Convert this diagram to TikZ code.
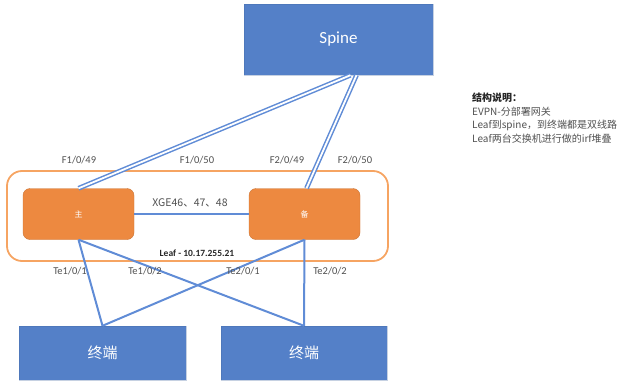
\documentclass[tikz,border=0pt]{standalone}
\usepackage{fontspec}
\setmainfont{Carlito}
\newfontfamily\cjk{Noto Sans CJK SC}
\usetikzlibrary{positioning}
\definecolor{mblue}{RGB}{84, 128, 200}
\definecolor{mline}{RGB}{96, 140, 214}
\definecolor{morange}{RGB}{237, 137, 64}
\definecolor{mborder}{RGB}{246, 164, 98}
\definecolor{mgray}{RGB}{80, 80, 80}
\tikzset{bluebox/.style = {fill=mblue, draw=mblue!80!black, draw opacity=0.3, text=white, inner sep=0},
  swbox/.style = {fill=morange, draw=morange!85!black, rounded corners=7, inner sep=0,
    minimum width=111, minimum height=51, text=white, font=\cjk\fontsize{8}{9}\selectfont},
  port/.style = {text=mgray, font=\fontsize{10.5}{12}\selectfont},
  link/.style = {draw=mline, line width=2},
  duallink/.style = {draw=mline, line width=1.5, double=white, double distance=1.8}}

\begin{document}
\begin{tikzpicture}[x=1pt, y=-1pt]
      \useasboundingbox (0, 0) rectangle (629, 383);

      \node [bluebox, minimum width=189, minimum height=71,
        font=\fontsize{17}{20}\selectfont] (spine) at (338.5, 39.5) {Spine};

      \draw [mborder, line width=1.8, rounded corners=15] (7, 171) rectangle (388, 261);
      \node [font=\bfseries\fontsize{9.5}{11}\selectfont, text=black!85] (leaf) at (197, 253) {Leaf - 10.17.255.21};

      \node [swbox] (zhu) at (78.5, 214) {主};
      \node [swbox] (bei) at (304.5, 214) {备};

      \node [bluebox, minimum width=167, minimum height=54,
        font=\cjk\fontsize{15}{18}\selectfont] (term1) at (102.5, 353) {终端};
      \node [bluebox, minimum width=166, minimum height=54,
        font=\cjk\fontsize{15}{18}\selectfont] (term2) at (304, 353) {终端};

      % uplinks
      \draw [duallink] ([xshift=12]spine.south) -- ([xshift=0]zhu.north);
      \draw [duallink] ([xshift=18]spine.south) -- ([xshift=2]bei.north);
      \node [port] (p1) at (79, 160) {F1/0/49};
      \node [port] (p2) at (197, 160) {F1/0/50};
      \node [port] (p3) at (287, 160) {F2/0/49};
      \node [port] (p4) at (355, 160) {F2/0/50};

      % irf
      \draw [link] (zhu) -- (bei);
      \node [port, font=\cjk\fontsize{10.5}{12}\selectfont] (xge) at (190, 203) {XGE46、47、48};

      % downlinks
      \draw [link] (zhu.south) -- (term1.north);
      \draw [link] (zhu.south) -- (term2.north);
      \draw [link] (bei.south) -- (term1.north);
      \draw [link] (bei.south) -- (term2.north);
      \node [port] (t1) at (70, 271) {Te1/0/1};
      \node [port] (t2) at (145, 271) {Te1/0/2};
      \node [port] (t3) at (243, 271) {Te2/0/1};
      \node [port] (t4) at (330, 271) {Te2/0/2};

      \node [anchor=north west, align=left, inner sep=0, text=mgray,
        font=\cjk\fontsize{10}{13.5}\selectfont] (note) at (472, 93)
        {{\bfseries\color{black!85}结构说明：}\\EVPN-分部署网关\\Leaf到spine，到终端都是双线路\\Leaf两台交换机进行做的irf堆叠};
    \end{tikzpicture}
\end{document}
